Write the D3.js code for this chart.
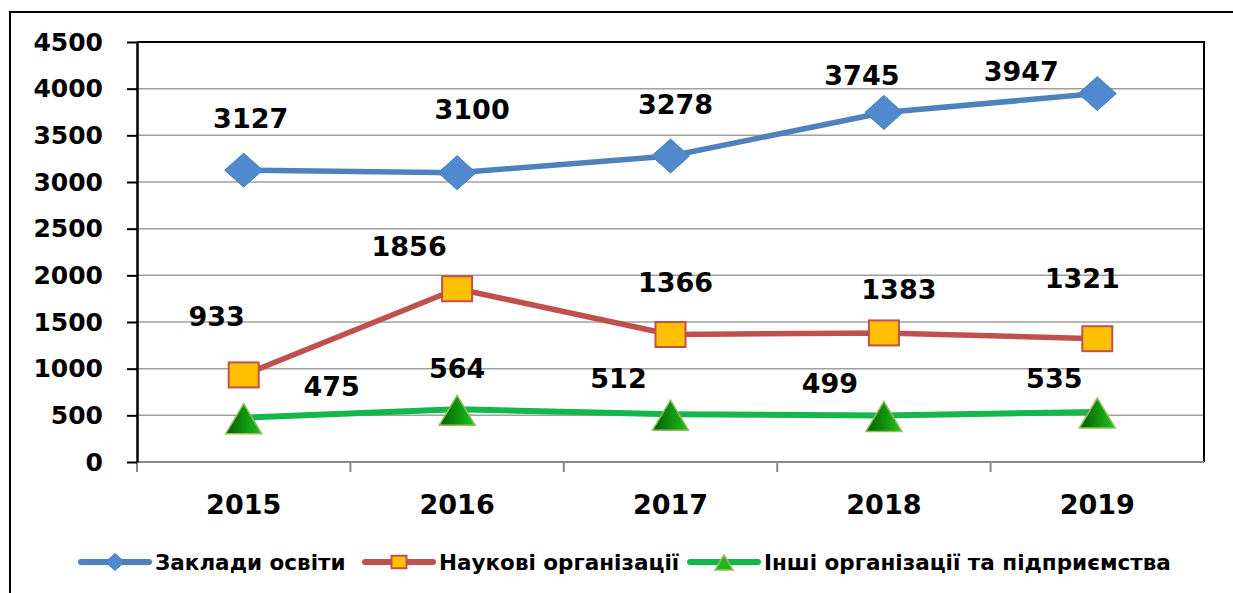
<!DOCTYPE html>
<html>
<head>
<meta charset="utf-8">
<script src="https://cdn.jsdelivr.net/npm/d3@7"></script>
<style>
  body { margin:0; background:#fff; }
  svg { display:block; font-family:"DejaVu Sans", Verdana, sans-serif; font-weight:bold; }
</style>
</head>
<body>
<svg id="chart" width="1233" height="593"></svg>
<script>
// data
var years = ["2015", "2016", "2017", "2018", "2019"];
var education = [3127, 3100, 3278, 3745, 3947];
var science = [933, 1856, 1366, 1383, 1321];
var other = [475, 564, 512, 499, 535];
var seriesNames = ["Заклади освіти", "Наукові організації", "Інші організації та підприємства"];
var yTicks = [0, 500, 1000, 1500, 2000, 2500, 3000, 3500, 4000, 4500];

// label nudges (dx, dy from the point) - labels were moved by hand in the original
var eduShift = [[7,-52],[15,-63],[5,-52],[-22,-37],[-76,-22]];
var sciShift = [[-27,-59],[-48,-42],[5,-52],[15,-44],[-15,-60]];
var othShift = [[88,-31],[0,-41],[-52,-36],[-54,-32],[-43,-34]];

(function(){
var svg = d3.select("#chart");
var pLeft = 137, pRight = 1204, pTop = 42, pBottom = 462;

var x = d3.scaleBand().domain(years).range([pLeft, pRight]);
var y = d3.scaleLinear().domain([0, 4500]).range([pBottom, pTop]);

// outer frame (cut off at right and bottom like the original)
svg.append("rect")
  .attr("x", 10).attr("y", 12).attr("width", 1260).attr("height", 620)
  .attr("fill", "none").attr("stroke", "#000").attr("stroke-width", 2);

var defs = svg.append("defs");
var grad = defs.append("linearGradient").attr("id", "triGrad")
  .attr("x1", 0).attr("y1", 0).attr("x2", 1).attr("y2", 0);
grad.append("stop").attr("offset", "0%").attr("stop-color", "#005c00");
grad.append("stop").attr("offset", "100%").attr("stop-color", "#1ec41e");

// gridlines
svg.append("g").selectAll("line")
  .data(yTicks.filter(function(d){ return d > 0 && d < 4500; }))
  .enter().append("line")
  .attr("x1", pLeft).attr("x2", pRight)
  .attr("y1", function(d){ return y(d); }).attr("y2", function(d){ return y(d); })
  .attr("stroke", "#a0a0a0").attr("stroke-width", 1.5);

// top & right border of plot
svg.append("path")
  .attr("d", "M" + pLeft + "," + pTop + "H" + pRight + "V" + pBottom)
  .attr("fill", "none").attr("stroke", "#000").attr("stroke-width", 2);

// bottom axis line + category boundary ticks (gray)
var bounds = d3.range(years.length + 1).map(function(i){ return pLeft + i * x.step(); });
svg.append("line")
  .attr("x1", pLeft).attr("x2", pRight).attr("y1", pBottom).attr("y2", pBottom)
  .attr("stroke", "#888").attr("stroke-width", 2);
svg.append("g").selectAll("line").data(bounds.slice(0, -1)).enter().append("line")
  .attr("x1", function(d){ return d; }).attr("x2", function(d){ return d; })
  .attr("y1", pBottom).attr("y2", pBottom + 10)
  .attr("stroke", "#888").attr("stroke-width", 2);

// y axis
var yAxis = svg.append("g")
  .attr("transform", "translate(" + pLeft + ",0)")
  .call(d3.axisLeft(y).tickValues(yTicks).tickFormat(d3.format("d"))
    .tickSize(10).tickSizeOuter(0).tickPadding(24));
yAxis.select(".domain").attr("stroke", "#000").attr("stroke-width", 2.5);
yAxis.selectAll(".tick line").attr("stroke", "#000").attr("stroke-width", 2);
yAxis.selectAll("text")
  .attr("font-size", 25).attr("font-weight", "bold").attr("fill", "#000")
  .attr("font-family", "'DejaVu Sans', sans-serif");

// x labels
var xAxis = svg.append("g")
  .attr("transform", "translate(0," + pBottom + ")")
  .call(d3.axisBottom(x).tickSize(0));
xAxis.select(".domain").remove();
xAxis.selectAll("text")
  .attr("y", 42).attr("dy", "0.36em")
  .attr("font-size", 27).attr("font-weight", "bold").attr("fill", "#000")
  .attr("font-family", "'DejaVu Sans', sans-serif");

// series
var series = [
  { name: seriesNames[0], values: education, shift: eduShift, color: "#4F81BD", width: 5.5, marker: "diamond" },
  { name: seriesNames[1], values: science, shift: sciShift, color: "#C0504D", width: 5.5, marker: "square" },
  { name: seriesNames[2], values: other, shift: othShift, color: "#13B74A", width: 6, marker: "triangle" }
];

function cx(i){ return x(years[i]) + x.bandwidth() / 2; }

var line = d3.line()
  .x(function(d, i){ return cx(i); })
  .y(function(d){ return y(d); });

function drawMarker(g, type, s) {
  // s = 1 for the plot, smaller for the legend
  if (type === "diamond") {
    g.append("path")
      .attr("d", "M0," + (-17*s) + "L" + (19*s) + ",0L0," + (17*s) + "L" + (-19*s) + ",0Z")
      .attr("fill", "#5189cf").attr("stroke", "#4a7ebb").attr("stroke-width", 1);
  } else if (type === "square") {
    g.append("rect")
      .attr("x", -15*s).attr("y", -12.5*s).attr("width", 30*s).attr("height", 25*s)
      .attr("fill", "#FFC000").attr("stroke", "#C0504D").attr("stroke-width", 2);
  } else {
    g.append("path")
      .attr("d", "M0," + (-14*s) + "L" + (18*s) + "," + (16*s) + "L" + (-18*s) + "," + (16*s) + "Z")
      .attr("fill", s < 1 ? "#1cb51c" : "url(#triGrad)")
      .attr("stroke", "#9bbb59").attr("stroke-width", 1.5);
  }
}

series.forEach(function(sr){
  svg.append("path")
    .datum(sr.values)
    .attr("d", line)
    .attr("fill", "none")
    .attr("stroke", sr.color)
    .attr("stroke-width", sr.width)
    .attr("stroke-linejoin", "round");
});

series.forEach(function(sr){
  sr.values.forEach(function(v, i){
    var g = svg.append("g").attr("transform", "translate(" + cx(i) + "," + y(v) + ")");
    drawMarker(g, sr.marker, 1);
  });
});

// data labels
series.forEach(function(sr){
  svg.append("g").selectAll("text")
    .data(sr.values)
    .enter().append("text")
    .attr("x", function(d, i){ return cx(i) + sr.shift[i][0]; })
    .attr("y", function(d, i){ return y(d) + sr.shift[i][1]; })
    .attr("dy", "0.36em")
    .attr("text-anchor", "middle")
    .attr("font-size", 27)
    .attr("fill", "#000")
    .text(function(d){ return d; });
});

// legend
var legendX = [81, 365, 690];
var legendY = 562;
series.forEach(function(sr, i){
  var lg = svg.append("g").attr("transform", "translate(" + legendX[i] + "," + legendY + ")");
  lg.append("line").attr("x1", 0).attr("x2", 68).attr("y1", 0).attr("y2", 0)
    .attr("stroke", sr.color).attr("stroke-width", 6).attr("stroke-linecap", "round");
  var m = lg.append("g").attr("transform", "translate(34,0)");
  drawMarker(m, sr.marker, 0.5);
  lg.append("text")
    .attr("x", 74).attr("dy", "0.36em")
    .attr("font-size", 21.5)
    .attr("fill", "#000")
    .text(sr.name);
});
})();
</script>
</body>
</html>
